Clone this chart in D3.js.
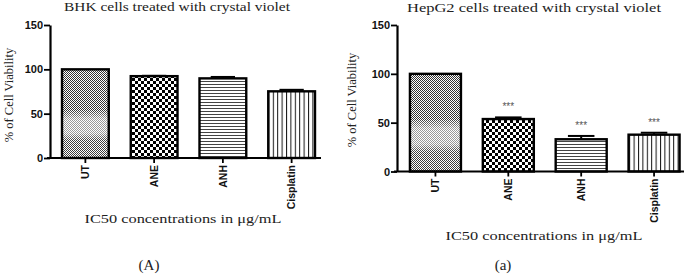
<!DOCTYPE html>
<meta charset="utf-8">
<head>
  <meta charset="UTF-8" />
  <title>Cell viability</title>
  <script src="https://d3js.org/d3.v7.min.js"></script>
</head>
<style>
  body { margin: 0; background: #fff; }
  .serif { font-family: "Liberation Serif", "Times New Roman", serif; fill: #222; }
  .tick text { font-family: "Liberation Sans", Arial, sans-serif; font-weight: bold; fill: #111; }
</style>
<div id="chart"></div>
<script>
  // data
  var categories = ["UT", "ANE", "ANH", "Cisplatin"]
  var bhkValues = [100, 92.3, 89.8, 75.2]
  var bhkErrors = [0, 0.4, 1.6, 1.7]
  var hepValues = [100, 53.7, 33, 37.7]
  var hepErrors = [0, 1.7, 3.4, 2]
  var hepSignif = ["", "***", "***", "***"]
  var yTicks = [0, 50, 100, 150]
  var patternIds = ["pUT", "pANE", "pANH", "pCis"]

  var svg = d3.select("#chart").append("svg")
    .attr("width", 685)
    .attr("height", 274)

  var defs = svg.append("defs")

  // fine dither for UT
  var pUT = defs.append("pattern").attr("id", "pUTdots")
    .attr("patternUnits", "userSpaceOnUse").attr("width", 2).attr("height", 2)
  pUT.append("rect").attr("width", 2).attr("height", 2).attr("fill", "#fff")
  pUT.append("rect").attr("width", 1).attr("height", 1).attr("fill", "#333")
  pUT.append("rect").attr("x", 1).attr("y", 1).attr("width", 1).attr("height", 1).attr("fill", "#333")

  var grad = defs.append("linearGradient").attr("id", "utGlow")
    .attr("x1", 0).attr("y1", 0).attr("x2", 0).attr("y2", 1)
  grad.append("stop").attr("offset", "0%").attr("stop-color", "#fff").attr("stop-opacity", 0)
  grad.append("stop").attr("offset", "46%").attr("stop-color", "#fff").attr("stop-opacity", 0)
  grad.append("stop").attr("offset", "56%").attr("stop-color", "#fff").attr("stop-opacity", 0.5)
  grad.append("stop").attr("offset", "72%").attr("stop-color", "#fff").attr("stop-opacity", 0.5)
  grad.append("stop").attr("offset", "80%").attr("stop-color", "#fff").attr("stop-opacity", 0.05)
  grad.append("stop").attr("offset", "100%").attr("stop-color", "#fff").attr("stop-opacity", 0.05)

  // checkerboard for ANE
  var pANE = defs.append("pattern").attr("id", "pANE")
    .attr("patternUnits", "userSpaceOnUse").attr("width", 6).attr("height", 6)
  pANE.append("rect").attr("width", 6).attr("height", 6).attr("fill", "#fff")
  pANE.append("rect").attr("width", 3).attr("height", 3).attr("fill", "#000")
  pANE.append("rect").attr("x", 3).attr("y", 3).attr("width", 3).attr("height", 3).attr("fill", "#000")

  // horizontal lines for ANH
  var pANH = defs.append("pattern").attr("id", "pANH")
    .attr("patternUnits", "userSpaceOnUse").attr("width", 4).attr("height", 3)
  pANH.append("rect").attr("width", 4).attr("height", 3).attr("fill", "#fff")
  pANH.append("rect").attr("width", 4).attr("height", 1).attr("fill", "#444")

  // vertical lines for Cisplatin
  var pCis = defs.append("pattern").attr("id", "pCis")
    .attr("patternUnits", "userSpaceOnUse").attr("width", 4.4).attr("height", 4)
  pCis.append("rect").attr("width", 4.4).attr("height", 4).attr("fill", "#fff")
  pCis.append("rect").attr("width", 1).attr("height", 4).attr("fill", "#111")

  function drawPanel(cfg) {
    var g = svg.append("g")

    var x = d3.scaleBand()
      .domain(categories)
      .range(cfg.xRange)
      .paddingInner(cfg.pad)
      .paddingOuter(cfg.pad / 2)

    var y = d3.scaleLinear()
      .domain([0, 150])
      .range([cfg.y0, cfg.yTop])

    var rows = categories.map((c, i) => ({cat: c, v: cfg.values[i], e: cfg.errors[i], s: cfg.signif ? cfg.signif[i] : "", p: patternIds[i]}))

    // bars
    rows.forEach(d => {
      var bx = x(d.cat), bw = x.bandwidth(), by = y(d.v), bh = y(0) - y(d.v)
      if (d.p == "pUT") {
        g.append("rect").attr("x", bx).attr("y", by).attr("width", bw).attr("height", bh)
          .attr("fill", "url(#pUTdots)")
        g.append("rect").attr("x", bx).attr("y", by).attr("width", bw).attr("height", bh)
          .attr("fill", "url(#utGlow)")
        g.append("rect").attr("x", bx).attr("y", by).attr("width", bw).attr("height", bh)
          .attr("fill", "none").attr("stroke", "#000").attr("stroke-width", 2.4)
      } else {
        g.append("rect").attr("x", bx).attr("y", by).attr("width", bw).attr("height", bh)
          .attr("fill", "url(#" + d.p + ")")
          .attr("stroke", "#000").attr("stroke-width", 2.4)
      }
      if (d.e > 0) {
        var cx = bx + bw / 2
        g.append("line").attr("x1", cx).attr("x2", cx)
          .attr("y1", y(d.v)).attr("y2", y(d.v + d.e))
          .attr("stroke", "#000").attr("stroke-width", 2)
        g.append("line").attr("x1", cx - bw * 0.26).attr("x2", cx + bw * 0.26)
          .attr("y1", y(d.v + d.e)).attr("y2", y(d.v + d.e))
          .attr("stroke", "#000").attr("stroke-width", 2)
      }
      if (d.s) {
        g.append("text").attr("x", bx + bw / 2).attr("y", y(d.v + d.e) - 7)
          .attr("text-anchor", "middle")
          .style("font-family", "Liberation Sans, Arial, sans-serif")
          .style("font-size", "10px").style("fill", "#555")
          .text(d.s)
      }
    })

    // y axis
    var yAxis = g.append("g")
      .attr("transform", "translate(" + cfg.x0 + ",0)")
      .call(d3.axisLeft(y).tickValues(yTicks).tickSize(6).tickSizeOuter(0).tickPadding(1))
    yAxis.select(".domain").attr("stroke-width", 2.2)
    yAxis.selectAll(".tick line").attr("stroke-width", 1.8)
    yAxis.selectAll(".tick text").style("font-size", "11px")

    // x axis
    var xAxis = g.append("g")
      .attr("transform", "translate(0," + cfg.y0 + ")")
      .call(d3.axisBottom(x).tickSize(5).tickSizeOuter(0))
    xAxis.select(".domain").remove()
    xAxis.selectAll(".tick line").attr("stroke-width", 1.8)
    xAxis.selectAll(".tick text")
      .attr("transform", "rotate(-90)")
      .attr("x", -7).attr("y", 0).attr("dy", "0.35em")
      .attr("text-anchor", "end")
      .style("font-size", "10.5px")
    g.append("line")
      .attr("x1", cfg.x0 - 3).attr("x2", cfg.xEnd)
      .attr("y1", cfg.y0).attr("y2", cfg.y0)
      .attr("stroke", "#000").attr("stroke-width", 2.2)

    // texts
    g.append("text").attr("class", "serif")
      .attr("x", cfg.titleX).attr("y", cfg.titleY).attr("text-anchor", "middle")
      .attr("textLength", cfg.titleW).attr("lengthAdjust", "spacingAndGlyphs")
      .style("font-size", "13.5px").text(cfg.title)
    g.append("text").attr("class", "serif")
      .attr("transform", "translate(" + cfg.ylabX + "," + cfg.ylabY + ") rotate(-90)")
      .attr("text-anchor", "middle").attr("dy", "0.35em")
      .style("font-size", "12.5px").text("% of Cell Viability")
    g.append("text").attr("class", "serif")
      .attr("x", cfg.xlabX).attr("y", cfg.xlabY).attr("text-anchor", "middle")
      .attr("textLength", 197).attr("lengthAdjust", "spacingAndGlyphs")
      .style("font-size", "13px").text("IC50 concentrations in μg/mL")
    g.append("text").attr("class", "serif")
      .attr("x", cfg.letterX).attr("y", cfg.letterY).attr("text-anchor", "middle")
      .style("font-size", "15px").text(cfg.letter)
  }

  drawPanel({
    values: bhkValues, errors: bhkErrors, signif: null,
    xRange: [51, 326], pad: 0.32, x0: 50, xEnd: 321, y0: 158, yTop: 25,
    title: "BHK cells treated with crystal violet", titleX: 177, titleY: 11, titleW: 226,
    ylabX: 9, ylabY: 95, xlabX: 183, xlabY: 223, letter: "(A)", letterX: 149, letterY: 270
  })

  drawPanel({
    values: hepValues, errors: hepErrors, signif: hepSignif,
    xRange: [399, 690.5], pad: 0.3, x0: 397, xEnd: 684, y0: 171.5, yTop: 25,
    title: "HepG2 cells treated with crystal violet", titleX: 534, titleY: 12, titleW: 254,
    ylabX: 352, ylabY: 100, xlabX: 544, xlabY: 240, letter: "(a)", letterX: 503, letterY: 270
  })
</script>
